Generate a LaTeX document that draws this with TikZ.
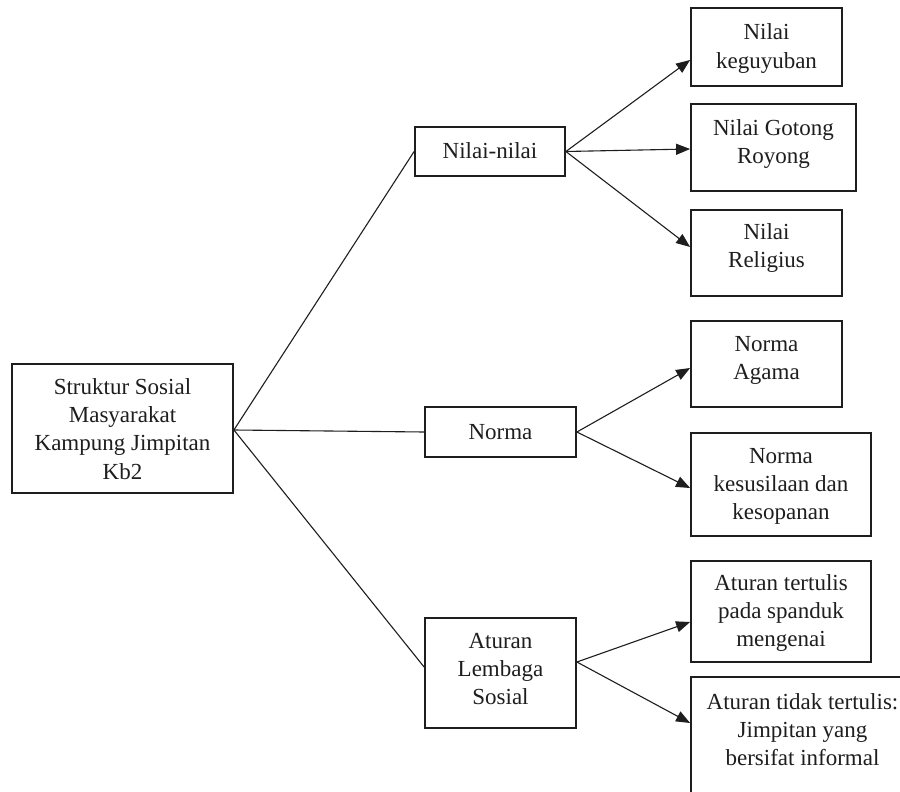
\documentclass[tikz,border=0pt]{standalone}
\usepackage{fontspec}
\setmainfont{Liberation Serif}
\usetikzlibrary{arrows.meta,calc}
\definecolor{ink}{HTML}{1E1E1E}
\begin{document}
\begin{tikzpicture}[x=1pt,y=-1pt,
  boxnode/.style={draw=ink,line width=1.8pt,rectangle,inner sep=0pt},
  txt/.style={text=ink,font=\fontsize{23}{28.4}\selectfont,align=center,inner sep=0pt,anchor=base},
  conn/.style={draw=ink,line width=1.1pt},
  arr/.style={conn,-{Triangle[length=14pt,width=11pt]}}]
\useasboundingbox (0,0) rectangle (900,792);
\clip (0,0) rectangle (900,792);
\fill[white] (0,0) rectangle (900,792);
% boxes: center, width, height
\node[boxnode,minimum width=221pt,minimum height=129pt] (root) at (122.5,428.5) {};
\node[boxnode,minimum width=150pt,minimum height=49pt] (nilai) at (490,151.5) {};
\node[boxnode,minimum width=151pt,minimum height=50pt] (norma) at (500.5,432) {};
\node[boxnode,minimum width=151pt,minimum height=110pt] (aturan) at (500.5,673) {};
\node[boxnode,minimum width=151pt,minimum height=78pt] (keg) at (766.5,47) {};
\node[boxnode,minimum width=165pt,minimum height=87pt] (gotong) at (773.5,147.5) {};
\node[boxnode,minimum width=151pt,minimum height=86pt] (relig) at (766.5,253) {};
\node[boxnode,minimum width=151pt,minimum height=86pt] (agama) at (766.5,364) {};
\node[boxnode,minimum width=180pt,minimum height=103pt] (susila) at (781,484.5) {};
\node[boxnode,minimum width=180pt,minimum height=101pt] (tulis) at (781,611.5) {};
\node[boxnode,minimum width=223pt,minimum height=133pt] (tidak) at (802.5,743.5) {};
% texts (positioned at the baseline of the last line)
\node[txt] (troot) at (122.5,479.2) {Struktur Sosial\\Masyarakat\\Kampung Jimpitan\\Kb2};
\node[txt] (tnilai) at (490,158) {Nilai-nilai};
\node[txt] (tnorma) at (500.5,439) {Norma};
\node[txt] (taturan) at (500.5,704.8) {Aturan\\Lembaga\\Sosial};
\node[txt] (tkeg) at (766.5,68.4) {Nilai\\keguyuban};
\node[txt] (tgotong) at (773.5,163.4) {Nilai Gotong\\Royong};
\node[txt] (trelig) at (766.5,267.4) {Nilai\\Religius};
\node[txt] (tagama) at (766.5,379.4) {Norma\\Agama};
\node[txt] (tsusila) at (781,519.8) {Norma\\kesusilaan dan\\kesopanan};
\node[txt] (ttulis) at (781,646.8) {Aturan tertulis\\pada spanduk\\mengenai};
\node[txt] (ttidak) at (802.5,765.8) {Aturan tidak tertulis:\\Jimpitan yang\\bersifat informal};
% connectors from root
\draw[conn] ([yshift=-1.5pt]root.east) -- (nilai.west);
\draw[conn] ([yshift=-1.5pt]root.east) -- (norma.west);
\draw[conn] ([yshift=-1.5pt]root.east) -- ([yshift=6pt]aturan.west);
% arrows
\draw[arr] (nilai.east) -- ([yshift=-13pt]keg.west);
\draw[arr] (nilai.east) -- ([yshift=-1.5pt]gotong.west);
\draw[arr] (nilai.east) -- ([yshift=6pt]relig.west);
\draw[arr] (norma.east) -- ([yshift=-4pt]agama.west);
\draw[arr] (norma.east) -- ([yshift=-3.5pt]susila.west);
\draw[arr] ([yshift=11pt]aturan.east) -- ([yshift=-10.5pt]tulis.west);
\draw[arr] ([yshift=11pt]aturan.east) -- ([yshift=20.5pt]tidak.west);
\end{tikzpicture}
\end{document}
